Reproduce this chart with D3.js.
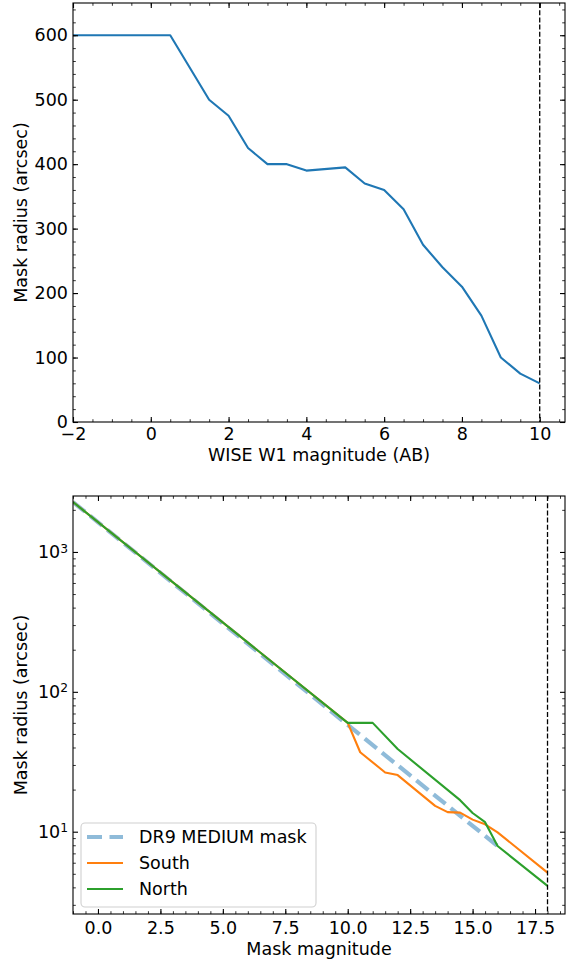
<!DOCTYPE html>
<html>
<head>
<meta charset="utf-8">
<script src="https://cdn.jsdelivr.net/npm/d3@7"></script>
<style>
  body { margin: 0; background: #fff; }
  svg text { font-family: "DejaVu Sans", sans-serif; }
</style>
</head>
<body>
<div id="chart"></div>
<script>
var width = 572,
	height = 960;

//Top panel data: WISE W1 magnitude vs mask radius
var w1Mag = [-2, 0.5, 1.5, 2, 2.5, 3, 3.5, 4, 5, 5.5, 6, 6.5, 7, 7.5, 8, 8.5, 9, 9.5, 10];
var w1Radius = [600, 600, 500, 475, 425, 400, 400, 390, 395, 370, 360, 330, 275, 240, 210, 165, 100, 75, 60];
var w1Limit = 10;

//Bottom panel data
var dr9Mag = [-1, 5, 10, 16];
var dr9Radius = [2275, 308, 58, 7.9];
var southMag = [-1, 10, 10.5, 11.5, 12, 13.5, 14, 14.5, 15, 15.5, 16, 18];
var southRadius = [2275, 60, 37, 26.5, 25.4, 15.3, 13.8, 13.7, 12.2, 11.3, 9.9, 5.1];
var northMag = [-1, 10, 11, 12, 14.5, 15, 15.5, 16, 18];
var northRadius = [2275, 60, 60, 39, 16.8, 13.6, 11.7, 7.9, 4.1];
var magLimit = 18;

//Tick labels
var topXTicks = [-2, 0, 2, 4, 6, 8, 10];
var topYTicks = [0, 100, 200, 300, 400, 500, 600];
var botXTicks = [0, 2.5, 5, 7.5, 10, 12.5, 15, 17.5];
var botYTicks = [10, 100, 1000];
var botYMinor = [3, 4, 5, 6, 7, 8, 9, 20, 30, 40, 50, 60, 70, 80, 90, 200, 300, 400, 500, 600, 700, 800, 900, 2000];

var legendNames = ["DR9 MEDIUM mask", "South", "North"];
var legendColors = ["rgba(31,119,180,0.5)", "#ff7f0e", "#2ca02c"];

var fontSize = 17.5,
	majorLen = 5,
	minorLen = 2.8;

var svg = d3.select("#chart").append("svg")
	.attr("width", width)
	.attr("height", height);

var zip = function(a, b) { return a.map(function(d, i) { return [d, b[i]]; }); };

//Draws ticks on all four sides, pointing inward, plus the frame
function drawFrame(g, x, y, opt) {
	var x0 = x.range()[0], x1 = x.range()[1],
		y0 = y.range()[0], y1 = y.range()[1];

	var sides = [
		{ axis: d3.axisBottom, scale: x, t: "translate(0," + y0 + ")", labels: true },
		{ axis: d3.axisTop, scale: x, t: "translate(0," + y1 + ")", labels: false },
		{ axis: d3.axisLeft, scale: y, t: "translate(" + x0 + ",0)", labels: true },
		{ axis: d3.axisRight, scale: y, t: "translate(" + x1 + ",0)", labels: false }
	];

	sides.forEach(function(s) {
		var isX = s.scale === x;
		var major = s.axis(s.scale)
			.tickValues(isX ? opt.xTicks : opt.yTicks)
			.tickSize(-majorLen)
			.tickPadding(isX ? opt.xPad : 5)
			.tickFormat(s.labels ? (isX ? opt.xFormat : opt.yFormat) : "");
		var minor = s.axis(s.scale)
			.tickValues(isX ? opt.xMinor : opt.yMinor)
			.tickSize(-minorLen)
			.tickFormat("");

		var gm = g.append("g").attr("transform", s.t).call(minor);
		var gM = g.append("g").attr("transform", s.t).call(major);
		[gm, gM].forEach(function(a) {
			a.select(".domain").remove();
			a.selectAll("line").attr("stroke", "#000").attr("stroke-width", 1.1);
			a.selectAll("text")
				.attr("fill", "#000")
				.style("font-size", fontSize + "px")
				.style("font-family", "'DejaVu Sans', sans-serif");
		});
		gm.selectAll("line").attr("stroke-width", 0.8);
		if (s.labels && !isX && opt.superscript) {
			gM.selectAll("text").text(null).each(function(d) {
				var t = d3.select(this);
				t.append("tspan").text("10");
				t.append("tspan")
					.attr("dy", "-0.45em")
					.style("font-size", (fontSize * 0.7) + "px")
					.text(Math.round(Math.log10(d)));
			});
		}
	});

	g.append("rect")
		.attr("x", x0)
		.attr("y", y1)
		.attr("width", x1 - x0)
		.attr("height", y0 - y1)
		.attr("fill", "none")
		.attr("stroke", "#000")
		.attr("stroke-width", 1.1);
}

////////////////////////////////////////////
/////////////// Top panel //////////////////
////////////////////////////////////////////

var xTop = d3.scaleLinear().domain([-2, 10.65]).range([73, 565]);
var yTop = d3.scaleLinear().domain([0, 650]).range([422, 3]);

var gTop = svg.append("g");

gTop.append("defs").append("clipPath").attr("id", "clipTop")
	.append("rect")
	.attr("x", 73).attr("y", 3).attr("width", 492).attr("height", 419);

gTop.append("path")
	.datum(zip(w1Mag, w1Radius))
	.attr("clip-path", "url(#clipTop)")
	.attr("fill", "none")
	.attr("stroke", "#1f77b4")
	.attr("stroke-width", 2.1)
	.attr("stroke-linejoin", "round")
	.attr("d", d3.line().x(function(d) { return xTop(d[0]); }).y(function(d) { return yTop(d[1]); }));

gTop.append("line")
	.attr("x1", xTop(w1Limit)).attr("x2", xTop(w1Limit))
	.attr("y1", 3).attr("y2", 422)
	.attr("stroke", "#000")
	.attr("stroke-width", 1.3)
	.attr("stroke-dasharray", "5,2.2");

drawFrame(gTop, xTop, yTop, {
	xTicks: topXTicks,
	yTicks: topYTicks,
	xMinor: d3.range(-2, 10.65, 0.5),
	yMinor: d3.range(0, 651, 20),
	xFormat: d3.format("d"),
	yFormat: d3.format("d"),
	xPad: 6
});

gTop.append("text")
	.attr("x", 319)
	.attr("y", 461)
	.attr("text-anchor", "middle")
	.style("font-size", fontSize + "px")
	.text("WISE W1 magnitude (AB)");

gTop.append("text")
	.attr("transform", "translate(27,212.5) rotate(-90)")
	.attr("text-anchor", "middle")
	.style("font-size", fontSize + "px")
	.text("Mask radius (arcsec)");

////////////////////////////////////////////
////////////// Bottom panel ////////////////
////////////////////////////////////////////

var xBot = d3.scaleLinear().domain([-1, 18.7]).range([73, 565]);
var yBot = d3.scaleLog().domain([2.58, 2512]).range([914, 496]);

var gBot = svg.append("g");

gBot.append("defs").append("clipPath").attr("id", "clipBot")
	.append("rect")
	.attr("x", 73).attr("y", 496).attr("width", 492).attr("height", 418);

var lineBot = d3.line()
	.x(function(d) { return xBot(d[0]); })
	.y(function(d) { return yBot(d[1]); });

var series = [
	{ data: zip(dr9Mag, dr9Radius), color: legendColors[0], w: 4.2, dash: "15.4,6.7" },
	{ data: zip(southMag, southRadius), color: legendColors[1], w: 2.1, dash: null },
	{ data: zip(northMag, northRadius), color: legendColors[2], w: 2.1, dash: null }
];

series.forEach(function(s) {
	gBot.append("path")
		.datum(s.data)
		.attr("clip-path", "url(#clipBot)")
		.attr("fill", "none")
		.attr("stroke", s.color)
		.attr("stroke-width", s.w)
		.attr("stroke-linejoin", "round")
		.attr("stroke-dasharray", s.dash)
		.attr("d", lineBot);
});

gBot.append("line")
	.attr("x1", xBot(magLimit)).attr("x2", xBot(magLimit))
	.attr("y1", 496).attr("y2", 914)
	.attr("stroke", "#000")
	.attr("stroke-width", 1.3)
	.attr("stroke-dasharray", "5,2.2");

drawFrame(gBot, xBot, yBot, {
	xTicks: botXTicks,
	yTicks: botYTicks,
	xMinor: d3.range(-1, 18.7, 0.5),
	yMinor: botYMinor,
	xFormat: d3.format(".1f"),
	yFormat: null,
	xPad: 8,
	superscript: true
});

gBot.append("text")
	.attr("x", 319)
	.attr("y", 955)
	.attr("text-anchor", "middle")
	.style("font-size", fontSize + "px")
	.text("Mask magnitude");

gBot.append("text")
	.attr("transform", "translate(27,705) rotate(-90)")
	.attr("text-anchor", "middle")
	.style("font-size", fontSize + "px")
	.text("Mask radius (arcsec)");

//Legend
var legend = gBot.append("g").attr("class", "legend");

legend.append("rect")
	.attr("x", 81)
	.attr("y", 823)
	.attr("width", 235)
	.attr("height", 84)
	.attr("rx", 4)
	.attr("fill", "#fff")
	.attr("fill-opacity", 0.8)
	.attr("stroke", "#d0d0d0")
	.attr("stroke-width", 1.1);

legend.selectAll("line.key")
	.data(series)
	.enter()
	.append("line")
	.attr("class", "key")
	.attr("x1", 87)
	.attr("x2", 123)
	.attr("y1", function(d, i) { return 837 + i * 26; })
	.attr("y2", function(d, i) { return 837 + i * 26; })
	.attr("stroke", function(d) { return d.color; })
	.attr("stroke-width", function(d) { return d.w; })
	.attr("stroke-dasharray", function(d) { return d.dash ? "15,7.5" : null; });

legend.selectAll("text")
	.data(legendNames)
	.enter()
	.append("text")
	.attr("x", 139)
	.attr("y", function(d, i) { return 837 + i * 26; })
	.attr("dy", "0.36em")
	.style("font-size", fontSize + "px")
	.text(function(d) { return d; });
</script>
</body>
</html>
